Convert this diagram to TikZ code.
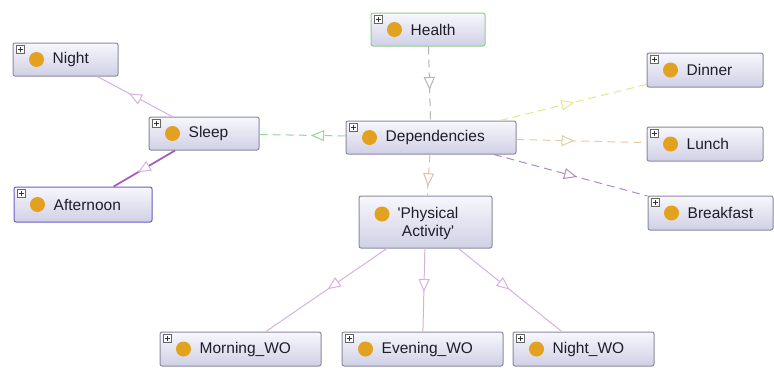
\documentclass[tikz,border=0pt]{standalone}
\usepackage{fontspec}
\setmainfont{Liberation Sans}
\usetikzlibrary{arrows.meta,decorations.markings}

\definecolor{boxline}{HTML}{8A8A9E}
\definecolor{boxtop}{HTML}{F7F7FC}
\definecolor{boxbot}{HTML}{D0D0E6}
\definecolor{dotc}{HTML}{E2A11E}
\definecolor{txt}{HTML}{1E1E2A}
\definecolor{hgreen}{HTML}{8CD08C}
\definecolor{selblue}{HTML}{6C5CC8}
\definecolor{egray}{HTML}{B4B4B4}
\definecolor{etan}{HTML}{DCC0A4}
\definecolor{egreen}{HTML}{96D896}
\definecolor{eyellow}{HTML}{E6E68C}
\definecolor{elunch}{HTML}{E4CCA4}
\definecolor{epurple}{HTML}{B088C4}
\definecolor{elilac}{HTML}{D6B2DE}
\definecolor{eviolet}{HTML}{A060BC}

% class box: name, left, top, right, bottom, label
\newcommand\ontoclass[7][boxline]{%
  \node[clsbox, draw=#1, minimum width={(#5-#3)*1pt}, minimum height={(#6-#4)*1pt}]
    (#2) at ({(#3+#5)/2},{(#4+#6)/2}) {};
  \fill[dotc] ([xshift=24pt]#2.west) circle (7.5pt);
  \node[clstext, anchor=west] (#2-t) at ([xshift=40pt]#2.west) {#7};
  \node[plusbox] (#2-p) at ([xshift=8pt,yshift=-7pt]#2.north west) {};
}

\begin{document}
\begin{tikzpicture}[x=1pt, y=-1pt,
  clsbox/.style={line width=1pt, rounded corners=2pt, top color=boxtop,
    bottom color=boxbot, inner sep=0pt},
  clstext/.style={inner sep=0pt, font=\fontsize{15.5}{18}\selectfont, text=txt},
  plusbox/.style={draw=gray!80!black, fill=white, minimum size=8pt, inner sep=0pt,
    line width=0.6pt,
    path picture={\draw[line width=0.7pt, black!80]
      ([xshift=-2.5pt]path picture bounding box.center) -- ([xshift=2.5pt]path picture bounding box.center)
      ([yshift=-2.5pt]path picture bounding box.center) -- ([yshift=2.5pt]path picture bounding box.center);}},
  link/.style={line width=1pt, draw=#1},
  dlink/.style={line width=1pt, draw=#1, dash pattern=on 8pt off 5pt},
  midtri/.style={postaction={decorate}, decoration={markings,
    mark=at position 0.5 with {\arrow[#1, line width=1pt, xshift=6.5pt]{Triangle[fill=white, length=13pt, width=11pt]}}}}
]
\useasboundingbox (0,0) rectangle (774,367);
\fill[white] (0,0) rectangle (774,367);

% classes
\ontoclass[hgreen]{health}{371}{13}{485}{46}{Health}
\ontoclass{night}{13}{43}{118}{76}{Night}
\ontoclass{dinner}{647}{53}{763}{87}{Dinner}
\ontoclass{sleep}{149}{117}{259}{150}{Sleep}
\ontoclass{dep}{346}{121}{516}{154}{Dependencies}
\ontoclass{lunch}{647}{127}{763}{161}{Lunch}
\ontoclass[selblue]{aft}{14}{187}{152}{222}{Afternoon}
\ontoclass{bfast}{648}{196}{773}{230}{Breakfast}
\ontoclass{morn}{160}{332}{321}{366}{Morning\_WO}
\ontoclass{eve}{342}{332}{503}{366}{Evening\_WO}
\ontoclass{nwo}{513}{332}{654}{366}{Night\_WO}

% the two-line class has no expand box
\node[clsbox, draw=boxline, minimum width=133pt, minimum height=52pt] (pa) at (425.5,222) {};
\fill[dotc] (382,214) circle (7.5pt);
\node[clstext, align=center] (pa-t) at (428,223) {\textquotesingle Physical\\Activity\textquotesingle};

% dashed links from Dependencies and Health
\draw[dlink=egray] (health) -- (dep);
\path[midtri=egray] (health.center) -- (dep.center);
\draw[dlink=etan] (dep) -- (pa);
\path[midtri=etan] (dep.center) -- (pa.center);
\draw[dlink=egreen] (dep) -- (sleep);
\path[midtri=egreen] (dep.center) -- (sleep.center);
\draw[dlink=eyellow] (dep) -- (dinner);
\path[midtri=eyellow] (dep.center) -- (dinner.center);
\draw[dlink=elunch] (dep) -- (lunch);
\path[midtri=elunch] (dep.center) -- (lunch.center);
\draw[dlink=epurple] (dep) -- (bfast);
\path[midtri=epurple] (dep.center) -- (bfast.center);

% solid subclass links
\draw[link=elilac] (sleep) -- (night);
\path[midtri=elilac] (sleep.center) -- (night.center);
\draw[link=eviolet, line width=1.8pt] (sleep) -- (aft);
\path[midtri=elilac] (sleep.center) -- (aft.center);
\draw[link=elilac] (pa) -- (morn);
\path[midtri=elilac] (pa.center) -- (morn.center);
\draw[link=elilac] (pa) -- (eve);
\path[midtri=elilac] (pa.center) -- (eve.center);
\draw[link=elilac] (pa) -- (nwo);
\path[midtri=elilac] (pa.center) -- (nwo.center);
\end{tikzpicture}
\end{document}
